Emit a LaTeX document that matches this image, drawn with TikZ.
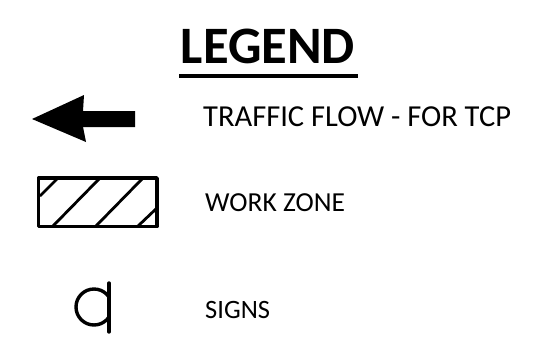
\documentclass[tikz,border=0pt]{standalone}
\usepackage{fontspec}
\setmainfont{Carlito}
\begin{document}
\begin{tikzpicture}[x=1pt,y=-1pt,
  lbl/.style={anchor=west,inner sep=0pt},
  sym/.style={line width=3.4pt,black,line cap=round,line join=round}]
\useasboundingbox (0,0) rectangle (556,338);
\node[inner sep=0pt,font=\fontsize{52.6}{56}\selectfont\bfseries] (title) at (268,46) {LEGEND};
\draw[line width=3.5pt] (179,76) -- (358,76);
\fill (32,119) -- (84,95) -- (83,111) -- (135,111) -- (135,127) -- (83,127) -- (86,142) -- cycle;
\node[lbl,font=\fontsize{30.5}{32}\selectfont] (t1) at (203,117) {TRAFFIC FLOW - FOR TCP};
\begin{scope}
\clip (37,177) rectangle (158,227);
\draw[line width=2.8pt] (40,196) -- (58,178) (52,227) -- (100,178) (95,227) -- (143,178) (137,227) -- (158,207);
\end{scope}
\draw[sym] (38.5,178) rectangle (157,226.5);
\node[lbl,font=\fontsize{27.5}{30}\selectfont] (t2) at (205,203) {WORK ZONE};
\begin{scope}
\clip (60,280) rectangle (109,335);
\draw[sym] (94,307) circle (18);
\end{scope}
\draw[sym] (109,283) -- (109,332);
\node[lbl,font=\fontsize{26.5}{30}\selectfont] (t3) at (205,310) {SIGNS};
\end{tikzpicture}
\end{document}
